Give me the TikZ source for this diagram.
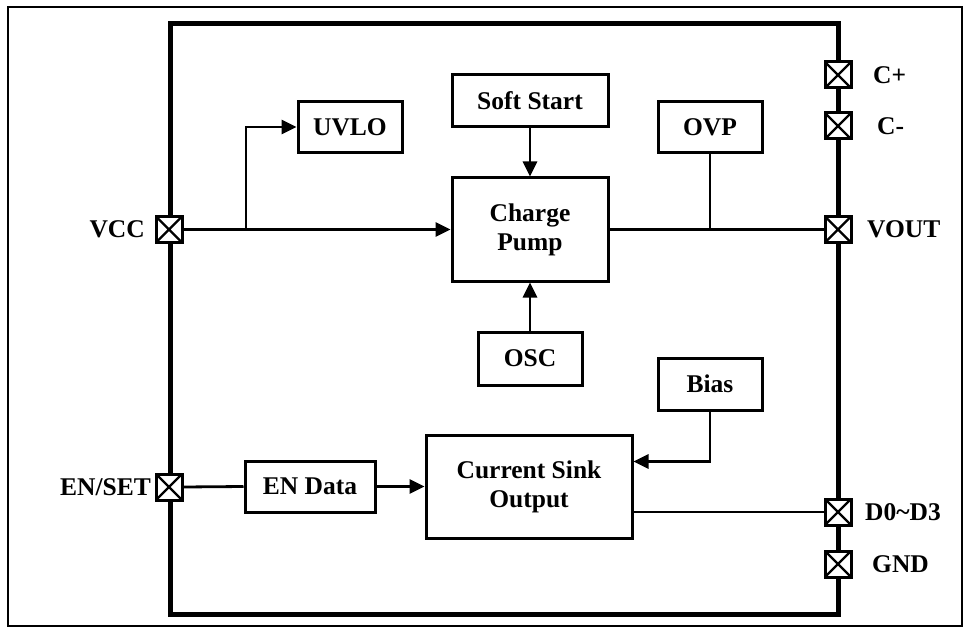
\documentclass[tikz,border=0pt]{standalone}
\usepackage{fontspec}
\setmainfont{Liberation Serif}
\usetikzlibrary{arrows.meta}
\begin{document}
\begin{tikzpicture}[x=1pt,y=-1pt,
  every node/.style={font=\fontsize{25.5}{29}\selectfont\bfseries},
  blk/.style={draw, line width=3pt, inner sep=0pt, align=center},
  pad/.style={draw, fill=white, line width=3pt, minimum size=26pt, inner sep=0pt,
    path picture={\draw[line width=2.2pt] (path picture bounding box.north west) -- (path picture bounding box.south east)
      (path picture bounding box.north east) -- (path picture bounding box.south west);}},
  wire/.style={line width=2.8pt},
  arr/.style={wire, -{Triangle[length=15pt,width=14pt]}},
  lbl/.style={inner sep=0pt}
]
\useasboundingbox (0,0) rectangle (968,628);
\draw[line width=1.2pt] (8,7) rectangle (962,626);
\draw[line width=5pt] (170,24) rectangle (838,614);

% blocks
\node[blk, minimum width=104pt, minimum height=51pt] (uvlo) at (350,127) {UVLO};
\node[blk, minimum width=156pt, minimum height=52pt] (ss) at (530,101) {Soft Start};
\node[blk, minimum width=156pt, minimum height=103pt] (cp) at (530,229.5) {Charge\\Pump};
\node[blk, minimum width=104pt, minimum height=51pt] (ovp) at (710,127) {OVP};
\node[blk, minimum width=104pt, minimum height=53pt] (osc) at (530,358.5) {OSC};
\node[blk, minimum width=104pt, minimum height=52pt] (bias) at (710,384) {Bias};
\node[blk, minimum width=206pt, minimum height=103pt] (cs) at (529,486.5) {Current Sink\\Output};
\node[blk, minimum width=130pt, minimum height=51pt] (en) at (310,486.5) {EN Data};

% pads
\node[pad] (pvcc) at (169,229.5) {};
\node[pad] (pen) at (169,487) {};
\node[pad] (pcp) at (838,75) {};
\node[pad] (pcm) at (838,126) {};
\node[pad] (pvout) at (838,229.5) {};
\node[pad] (pd) at (838,512) {};
\node[pad] (pgnd) at (838,564) {};

% labels
\node[lbl, anchor=east] (lvcc) at (145,229.5) {VCC};
\node[lbl, anchor=east] (len) at (151,487) {EN/SET};
\node[lbl, anchor=west] (lcp) at (873,75) {C+};
\node[lbl, anchor=west] (lcm) at (877,126) {C-};
\node[lbl, anchor=west] (lvout) at (867,229.5) {VOUT};
\node[lbl, anchor=west] (ld) at (865,512) {D0\textasciitilde D3};
\node[lbl, anchor=west] (lgnd) at (872,564) {GND};

% connectors
\coordinate (split) at (246,229.5);
\draw[arr] (pvcc.east) -- (cp.west);
\draw[arr] (split) |- (uvlo.west);
\draw[arr] (ss.south) -- (cp.north);
\draw[arr] (osc.north) -- (cp.south);
\draw[wire] (cp.east) -- (pvout.west);
\draw[wire] (ovp.south) -- (ovp.south |- pvout.west);
\draw[arr] (bias.south) |- ([yshift=25pt]cs.east);
\draw[wire] (pen.east) -- (en.west);
\draw[arr] (en.east) -- (cs.west);
\draw[wire] (pd.west -| cs.east) -- (pd.west);
\end{tikzpicture}
\end{document}
